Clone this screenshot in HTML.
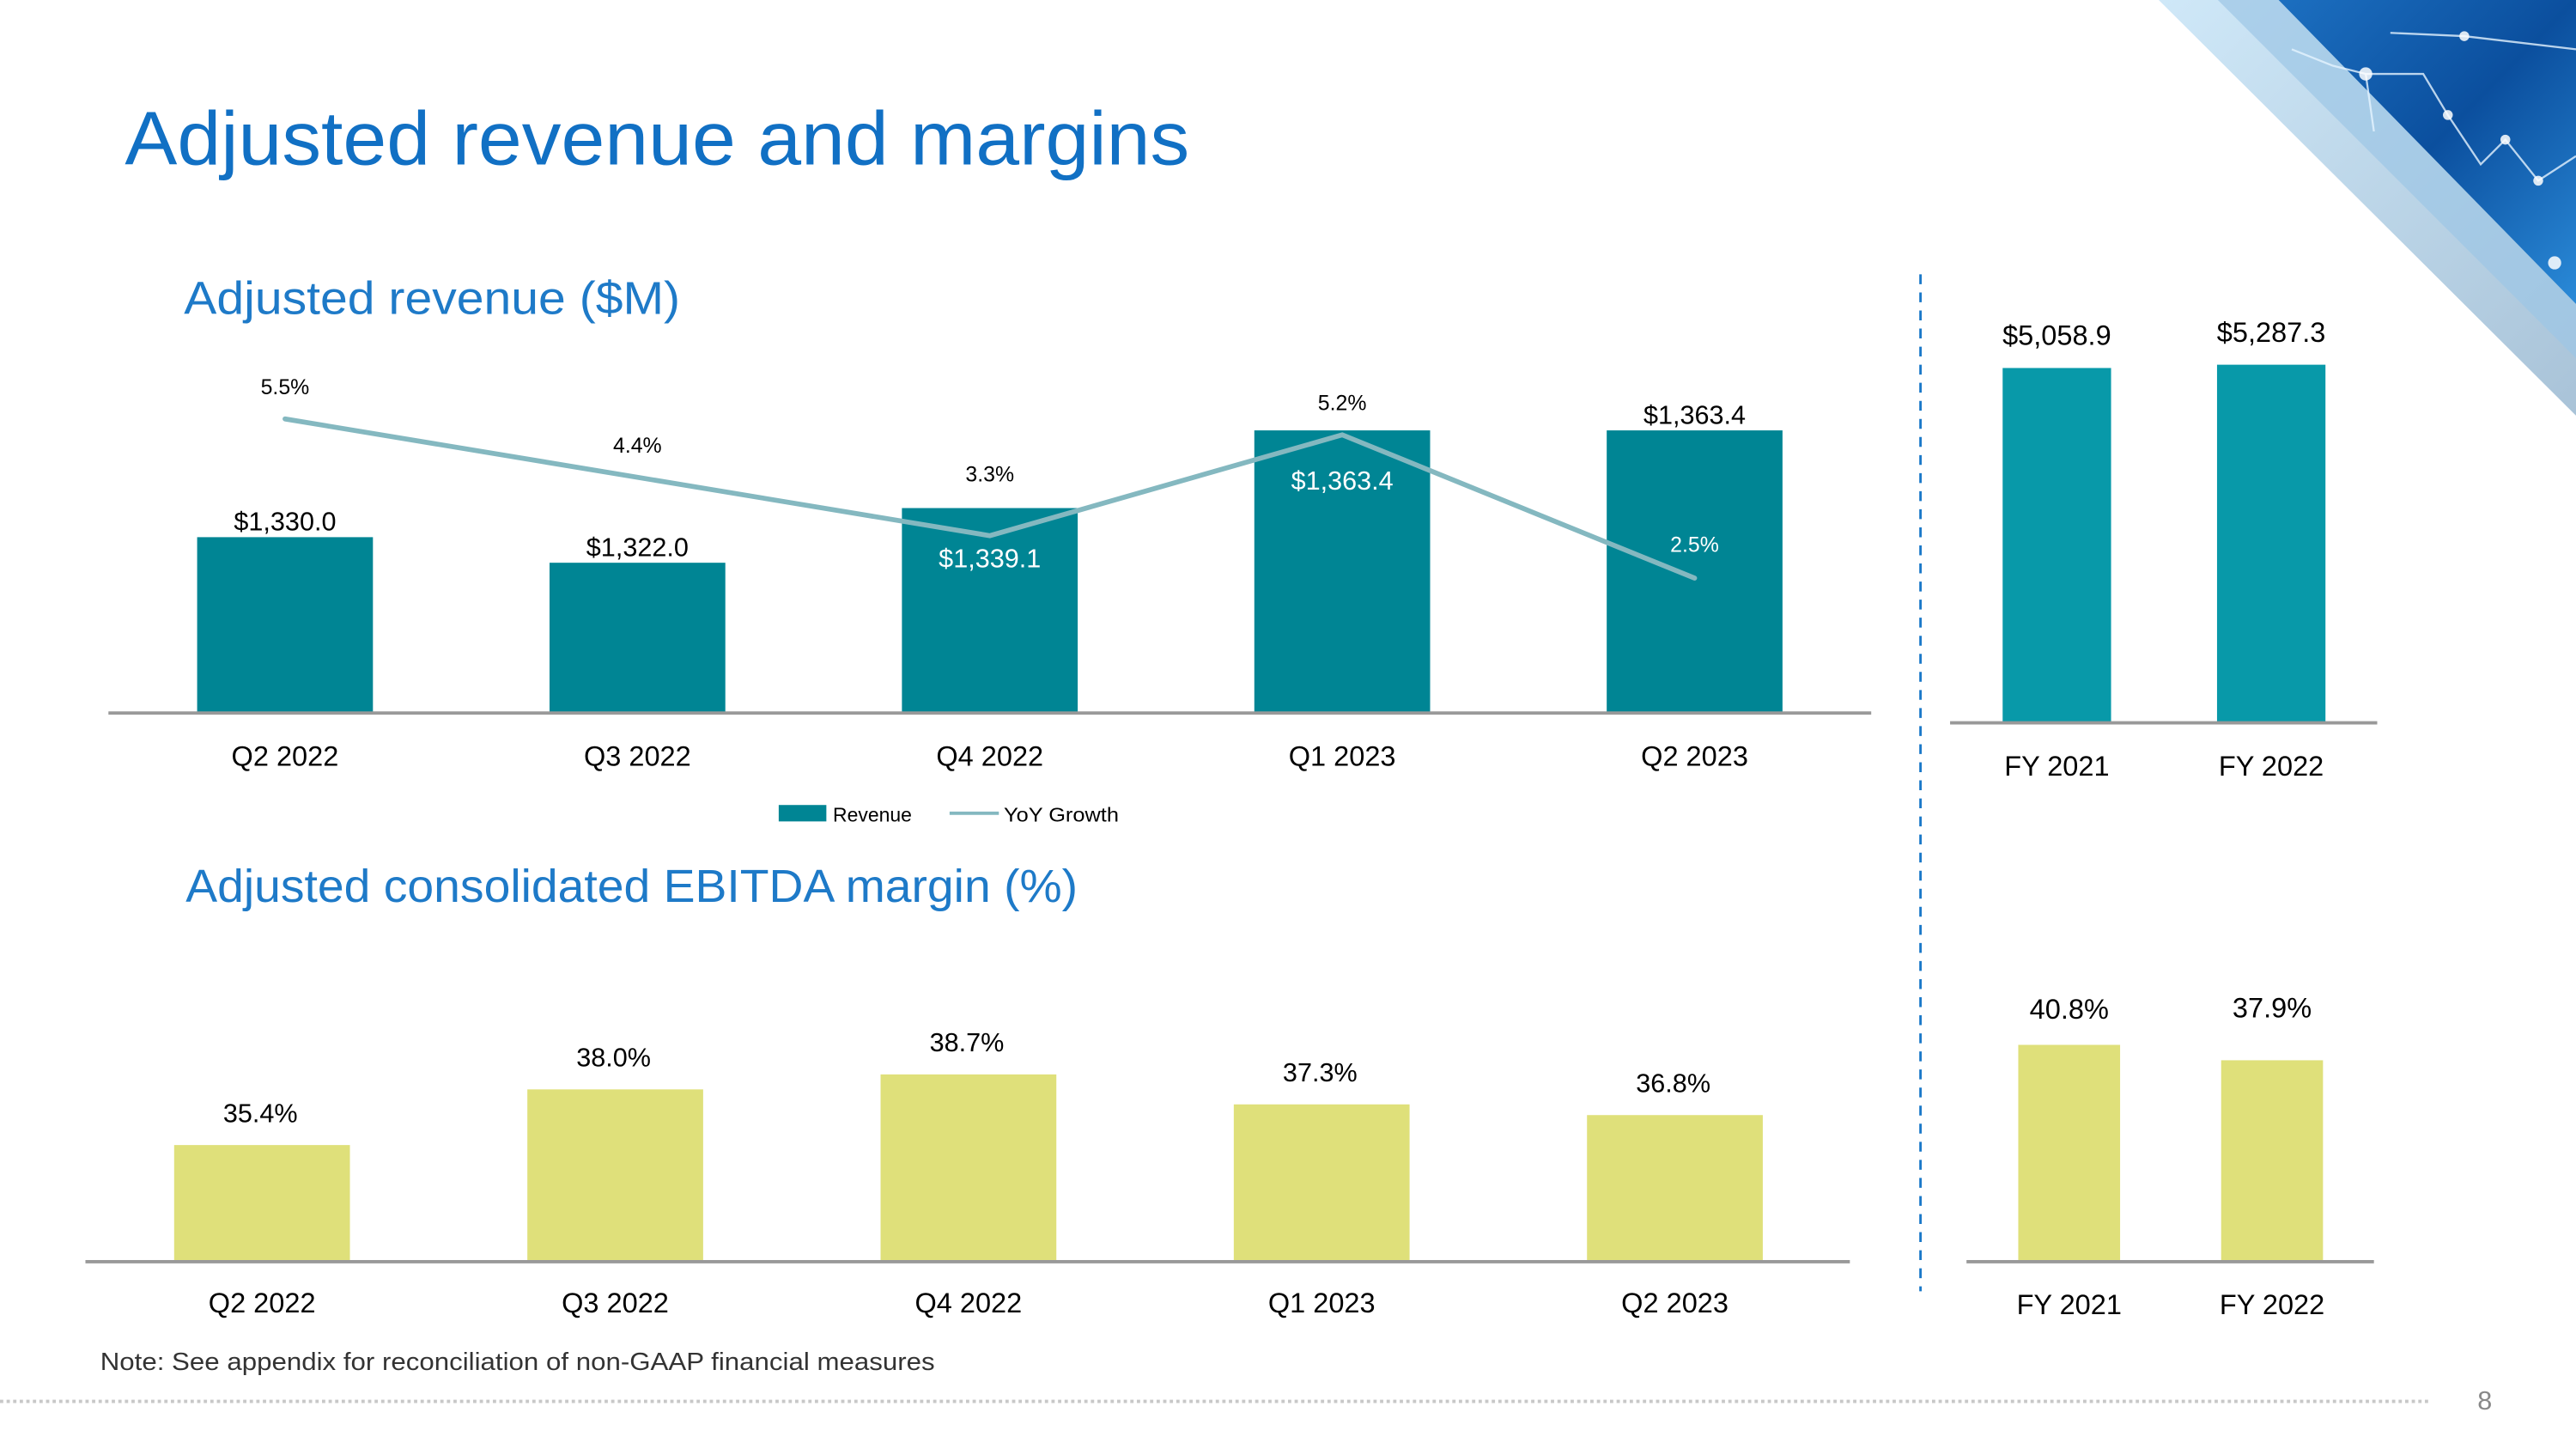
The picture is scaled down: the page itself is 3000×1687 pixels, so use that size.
<!DOCTYPE html>
<html><head><meta charset="utf-8"><style>
html,body{margin:0;padding:0;background:#fff}
svg{display:block}
text{font-family:"Liberation Sans",sans-serif}
</style></head><body>
<svg id="slide" width="3000" height="1687" viewBox="0 0 1568 882" preserveAspectRatio="none" xmlns="http://www.w3.org/2000/svg">
<defs>
<linearGradient id="gDark" x1="0" y1="0" x2="1" y2="1">
<stop offset="0" stop-color="#1c6fc0"/><stop offset="0.5" stop-color="#0b4f9e"/><stop offset="1" stop-color="#2a8ad8"/>
</linearGradient>
<linearGradient id="gLight" x1="0" y1="0" x2="1" y2="1">
<stop offset="0" stop-color="#cfe8f8"/><stop offset="1" stop-color="#a9c3d8"/>
</linearGradient>
</defs>
<g>
<polygon points="1314,0 1568,0 1568,253" fill="url(#gLight)"/>
<polygon points="1350,0 1568,0 1568,218" fill="#9cc6e6" opacity="0.7"/>
<polygon points="1387,0 1568,0 1568,185" fill="url(#gDark)"/>
<g stroke="#e6f4ff" stroke-width="1.2" fill="none" opacity="0.8">
<polyline points="1440,45 1475,45 1490,70 1510,100 1525,85 1545,110 1568,95"/>
<polyline points="1455,20 1500,22 1568,30"/>
<polyline points="1395,30 1420,40 1440,45 1445,80"/>
</g>
<g fill="#ffffff" opacity="0.85">
<circle cx="1440" cy="45" r="4"/><circle cx="1490" cy="70" r="3"/><circle cx="1525" cy="85" r="3"/><circle cx="1545" cy="110" r="3"/><circle cx="1500" cy="22" r="3"/><circle cx="1555" cy="160" r="4"/>
</g>
</g>
<text x="76" y="100" font-size="46" fill="#1170c4" textLength="648" lengthAdjust="spacingAndGlyphs">Adjusted revenue and margins</text>
<text x="112" y="191" font-size="28" fill="#1e7ac8" textLength="302" lengthAdjust="spacingAndGlyphs">Adjusted revenue ($M)</text>
<text x="113" y="549" font-size="28" fill="#1e7ac8" textLength="543" lengthAdjust="spacingAndGlyphs">Adjusted consolidated EBITDA margin (%)</text>
<line x1="1169" y1="167" x2="1169" y2="786" stroke="#1a78c8" stroke-width="1.5" stroke-dasharray="6,5"/>
<g id="rev"></g>
<g id="revfy"></g>
<g id="ebit"></g>
<g id="ebitfy"></g>
<g>
<rect x="474" y="490" width="29" height="10" fill="#008594"/>
<text x="507" y="500" font-size="12" fill="#000">Revenue</text>
<line x1="578" y1="495" x2="608" y2="495" stroke="#84b8c0" stroke-width="2"/>
<text x="611" y="500" font-size="12" fill="#000" textLength="70" lengthAdjust="spacingAndGlyphs">YoY Growth</text>
</g>
<text x="61" y="834" font-size="15" fill="#333" textLength="508" lengthAdjust="spacingAndGlyphs">Note: See appendix for reconciliation of non-GAAP financial measures</text>
<line x1="0" y1="853" x2="1480" y2="853" stroke="#c8c8c8" stroke-width="2" stroke-dasharray="2,2"/>
<text x="1508" y="858" font-size="16" fill="#888">8</text>
</svg>
<script>
const quarters = ["Q2 2022","Q3 2022","Q4 2022","Q1 2023","Q2 2023"];
const revenue = [1330.0,1322.0,1339.1,1363.4,1363.4];
const revenueLabels = ["$1,330.0","$1,322.0","$1,339.1","$1,363.4","$1,363.4"];
const revenueLabelInside = [false,false,true,true,false];
const yoyGrowth = [5.5,4.4,3.3,5.2,2.5];
const yoyLabels = ["5.5%","4.4%","3.3%","5.2%","2.5%"];
const fyYears = ["FY 2021","FY 2022"];
const fyRevenue = [5058.9,5287.3];
const fyRevenueLabels = ["$5,058.9","$5,287.3"];
const ebitda = [35.4,38.0,38.7,37.3,36.8];
const ebitdaLabels = ["35.4%","38.0%","38.7%","37.3%","36.8%"];
const fyEbitda = [40.8,37.9];
const fyEbitdaLabels = ["40.8%","37.9%"];

const NS="http://www.w3.org/2000/svg";
function mk(parent,tag,attrs,txt){const e=document.createElementNS(NS,tag);for(const k in attrs)e.setAttribute(k,attrs[k]);if(txt!==undefined)e.textContent=txt;parent.appendChild(e);return e;}

// Revenue quarterly
(function(){
 const g=document.getElementById('rev');
 const base=434, x0=66, step=214.5, bw=107;
 const yR=v=>base-(v-1275)*1.946;
 const yG=v=>255+(5.5-v)*32.3;
 const cx=i=>x0+107.5+i*step;
 quarters.forEach((q,i)=>{
  const r=mk(g,'rect',{x:cx(i)-bw/2,y:yR(revenue[i]),width:bw,height:base-yR(revenue[i]),fill:'#008594'});
  
  
  const inside=revenueLabelInside[i];
  const t=mk(g,'text',{x:cx(i),y:inside?yR(revenue[i])+36:yR(revenue[i])-4,'font-size':16,'text-anchor':'middle',fill:inside?'#fff':'#000'},revenueLabels[i]);
  
  
  const c=mk(g,'text',{x:cx(i),y:466,'font-size':17,'text-anchor':'middle',fill:'#000'},q);
  
  
 });
 const ax=mk(g,'line',{x1:66,y1:base,x2:1139,y2:base,stroke:'#999','stroke-width':2});
 
 
 const pts=yoyGrowth.map((v,i)=>cx(i)+','+yG(v)).join(' ');
 const pl=mk(g,'polyline',{points:pts,fill:'none',stroke:'#84b8c0','stroke-width':3,'stroke-linecap':'round'});
 
 
 yoyGrowth.forEach((v,i)=>{
  const dy = i===2?-33:(i===4?-16:-15);
  const inside=(i===4);
  const t=mk(g,'text',{x:cx(i),y:yG(v)+dy,'font-size':13,'text-anchor':'middle',fill:inside?'#fff':'#000'},yoyLabels[i]);
  
  
 });
})();

// Revenue FY
(function(){
 const g=document.getElementById('revfy');
 const base=440, bw=66, cxs=[1252,1382.5];
 const y=v=>base-(v+19600)*(216/24658.9);
 fyYears.forEach((f,i)=>{
  const r=mk(g,'rect',{x:cxs[i]-bw/2,y:y(fyRevenue[i]),width:bw,height:base-y(fyRevenue[i]),fill:'#0899a9'});
  
  
  const t=mk(g,'text',{x:cxs[i],y:y(fyRevenue[i])-14,'font-size':17,'text-anchor':'middle',fill:'#000'},fyRevenueLabels[i]);
  
  
  const c=mk(g,'text',{x:cxs[i],y:472,'font-size':17,'text-anchor':'middle',fill:'#000'},f);
  
  
 });
 const ax=mk(g,'line',{x1:1187,y1:base,x2:1447,y2:base,stroke:'#999','stroke-width':2});
 
 
})();

// EBITDA quarterly
(function(){
 const g=document.getElementById('ebit');
 const base=768, bw=107, step=215;
 const y=v=>base-(v-29.95)*13.03;
 const cx=i=>159.5+i*step;
 quarters.forEach((q,i)=>{
  const r=mk(g,'rect',{x:cx(i)-bw/2,y:y(ebitda[i]),width:bw,height:base-y(ebitda[i]),fill:'#dfe07a'});
  
  
  const t=mk(g,'text',{x:cx(i)-1,y:y(ebitda[i])-14,'font-size':16,'text-anchor':'middle',fill:'#000'},ebitdaLabels[i]);
  
  
  const c=mk(g,'text',{x:cx(i),y:799,'font-size':17,'text-anchor':'middle',fill:'#000'},q);
  
  
 });
 const ax=mk(g,'line',{x1:52,y1:base,x2:1126,y2:base,stroke:'#999','stroke-width':2});
 
 
})();

// EBITDA FY
(function(){
 const g=document.getElementById('ebitfy');
 const base=768, bw=62, cxs=[1259.5,1383];
 const y=v=>base-v*(132/40.8);
 fyYears.forEach((f,i)=>{
  const r=mk(g,'rect',{x:cxs[i]-bw/2,y:y(fyEbitda[i]),width:bw,height:base-y(fyEbitda[i]),fill:'#dfe07a'});
  
  
  const t=mk(g,'text',{x:cxs[i],y:i===0?y(fyEbitda[i])-16:y(fyEbitda[i])-26,'font-size':17,'text-anchor':'middle',fill:'#000'},fyEbitdaLabels[i]);
  
  
  const c=mk(g,'text',{x:cxs[i],y:800,'font-size':17,'text-anchor':'middle',fill:'#000'},f);
  
  
 });
 const ax=mk(g,'line',{x1:1197,y1:base,x2:1445,y2:base,stroke:'#999','stroke-width':2});
 
 
})();
</script>
</body></html>
